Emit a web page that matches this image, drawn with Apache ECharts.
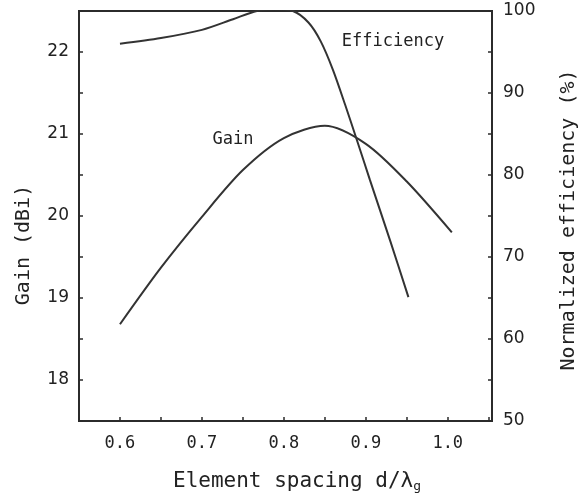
<!DOCTYPE html>
<html lang="en">
  <head>
    <meta charset="utf-8" />
    <style>
      html,
      body {
        margin: 0;
        width: 100%;
        height: 100%;
        background: #fff;
      }
      #container {
        width: 582px;
        height: 497px;
      }
    </style>
    <script src="https://cdn.jsdelivr.net/npm/echarts@6/dist/echarts.min.js"></script>
  </head>

  <body>
    <div id="container"></div>

    <script>
      // element spacing d/lambda_g
      var gainX = [0.6, 0.65, 0.7, 0.75, 0.8, 0.85, 0.9, 0.95, 1.005];
      // gain in dBi
      var gainY = [18.68, 19.37, 19.99, 20.56, 20.95, 21.1, 20.88, 20.42, 19.8];

      var effX = [0.6, 0.65, 0.7, 0.738, 0.767, 0.79, 0.811, 0.83, 0.845, 0.86, 0.875, 0.89, 0.905, 0.93, 0.952];
      // normalized efficiency in %
      var effY = [96.0, 96.7, 97.7, 99.0, 100, 100.2, 100, 98.6, 96.3, 92.8, 88.5, 84.0, 79.4, 71.9, 65.1];

      var xTickLabels = ["0.6", "0.7", "0.8", "0.9", "1.0"];
      var gainTickLabels = ["18", "19", "20", "21", "22"];
      var effTickLabels = ["50", "60", "70", "80", "90", "100"];

      var ink = "#2b2b2b";
      var mono = "DejaVu Sans Mono";

      function pairs(xs, ys) {
        var out = [];
        for (var i = 0; i < xs.length; i++) out.push([xs[i], ys[i]]);
        return out;
      }

      // only label ticks that sit on a step (0.1 on x, 1 or 10 on y)
      function pick(list, v, step, digits) {
        var k = v / step;
        if (Math.abs(k - Math.round(k)) > 1e-6) return "";
        var s = (Math.round(k) * step).toFixed(digits);
        return list.indexOf(s) >= 0 ? s : "";
      }

      var chart = echarts.init(document.getElementById("container"));

      chart.setOption({
        animation: false,
        backgroundColor: "#fff",
        grid: {
          left: 79,
          right: 90,
          top: 11,
          bottom: 76,
          show: true,
          borderColor: ink,
          borderWidth: 2,
          containLabel: false,
          outerBoundsMode: "none"
        },
        xAxis: {
          type: "value",
          min: 0.55,
          max: 1.054,
          interval: 0.05,
          axisLine: { show: true, lineStyle: { color: ink, width: 2 } },
          axisTick: { inside: true, length: 4, lineStyle: { color: ink, width: 1.5 } },
          splitLine: { show: false },
          axisLabel: {
            margin: 14,
            color: "#222",
            fontFamily: mono,
            fontSize: 17,
            formatter: function (v) {
              return pick(xTickLabels, v, 0.1, 1);
            }
          }
        },
        yAxis: [
          {
            type: "value",
            min: 17.5,
            max: 22.5,
            interval: 0.5,
            axisLine: { show: true, lineStyle: { color: ink, width: 2 } },
            axisTick: { show: true, inside: true, length: 4, lineStyle: { color: ink, width: 1.5 } },
            splitLine: { show: false },
            axisLabel: {
              margin: 10,
              color: "#222",
              fontFamily: "DejaVu Sans",
              fontSize: 17,
              formatter: function (v) {
                return pick(gainTickLabels, v, 1, 0);
              }
            }
          },
          {
            type: "value",
            position: "right",
            min: 50,
            max: 100,
            interval: 5,
            axisLine: { show: true, lineStyle: { color: ink, width: 2 } },
            axisTick: { show: true, inside: true, length: 4, lineStyle: { color: ink, width: 1.5 } },
            splitLine: { show: false },
            axisLabel: {
              margin: 11,
              color: "#222",
              fontFamily: "DejaVu Sans",
              fontSize: 17,
              formatter: function (v) {
                return pick(effTickLabels, v, 10, 0);
              }
            }
          }
        ],
        series: [
          {
            name: "Gain",
            type: "line",
            yAxisIndex: 0,
            data: pairs(gainX, gainY),
            smooth: 0.3,
            showSymbol: false,
            lineStyle: { color: "#333", width: 2 }
          },
          {
            name: "Efficiency",
            type: "line",
            yAxisIndex: 1,
            data: pairs(effX, effY),
            smooth: 0.3,
            showSymbol: false,
            clip: true,
            lineStyle: { color: "#333", width: 2 }
          }
        ],
        graphic: [
          {
            type: "text",
            x: 233,
            y: 140,
            style: {
              text: "Gain",
              font: "17px " + mono,
              fill: "#222",
              align: "center",
              verticalAlign: "middle"
            }
          },
          {
            type: "text",
            x: 393,
            y: 42,
            style: {
              text: "Efficiency",
              font: "17px " + mono,
              fill: "#222",
              align: "center",
              verticalAlign: "middle"
            }
          },
          {
            // left axis title
            type: "text",
            x: 24,
            y: 245,
            rotation: Math.PI / 2,
            style: {
              text: "Gain (dBi)",
              font: "20px " + mono,
              fill: "#222",
              align: "center",
              verticalAlign: "middle"
            }
          },
          {
            // right axis title
            type: "text",
            x: 569,
            y: 220,
            rotation: Math.PI / 2,
            style: {
              text: "Normalized efficiency (%)",
              font: "20px " + mono,
              fill: "#222",
              align: "center",
              verticalAlign: "middle"
            }
          },
          {
            // x axis title with subscript
            type: "text",
            x: 173,
            y: 482,
            style: {
              text: "Element spacing d/λ{sub|g}",
              font: "21px " + mono,
              fill: "#222",
              align: "left",
              verticalAlign: "middle",
              rich: {
                sub: {
                  font: "13px " + mono,
                  fill: "#222",
                  padding: [10, 0, 0, 0]
                }
              }
            }
          }
        ]
      });
    </script>
  </body>
</html>
